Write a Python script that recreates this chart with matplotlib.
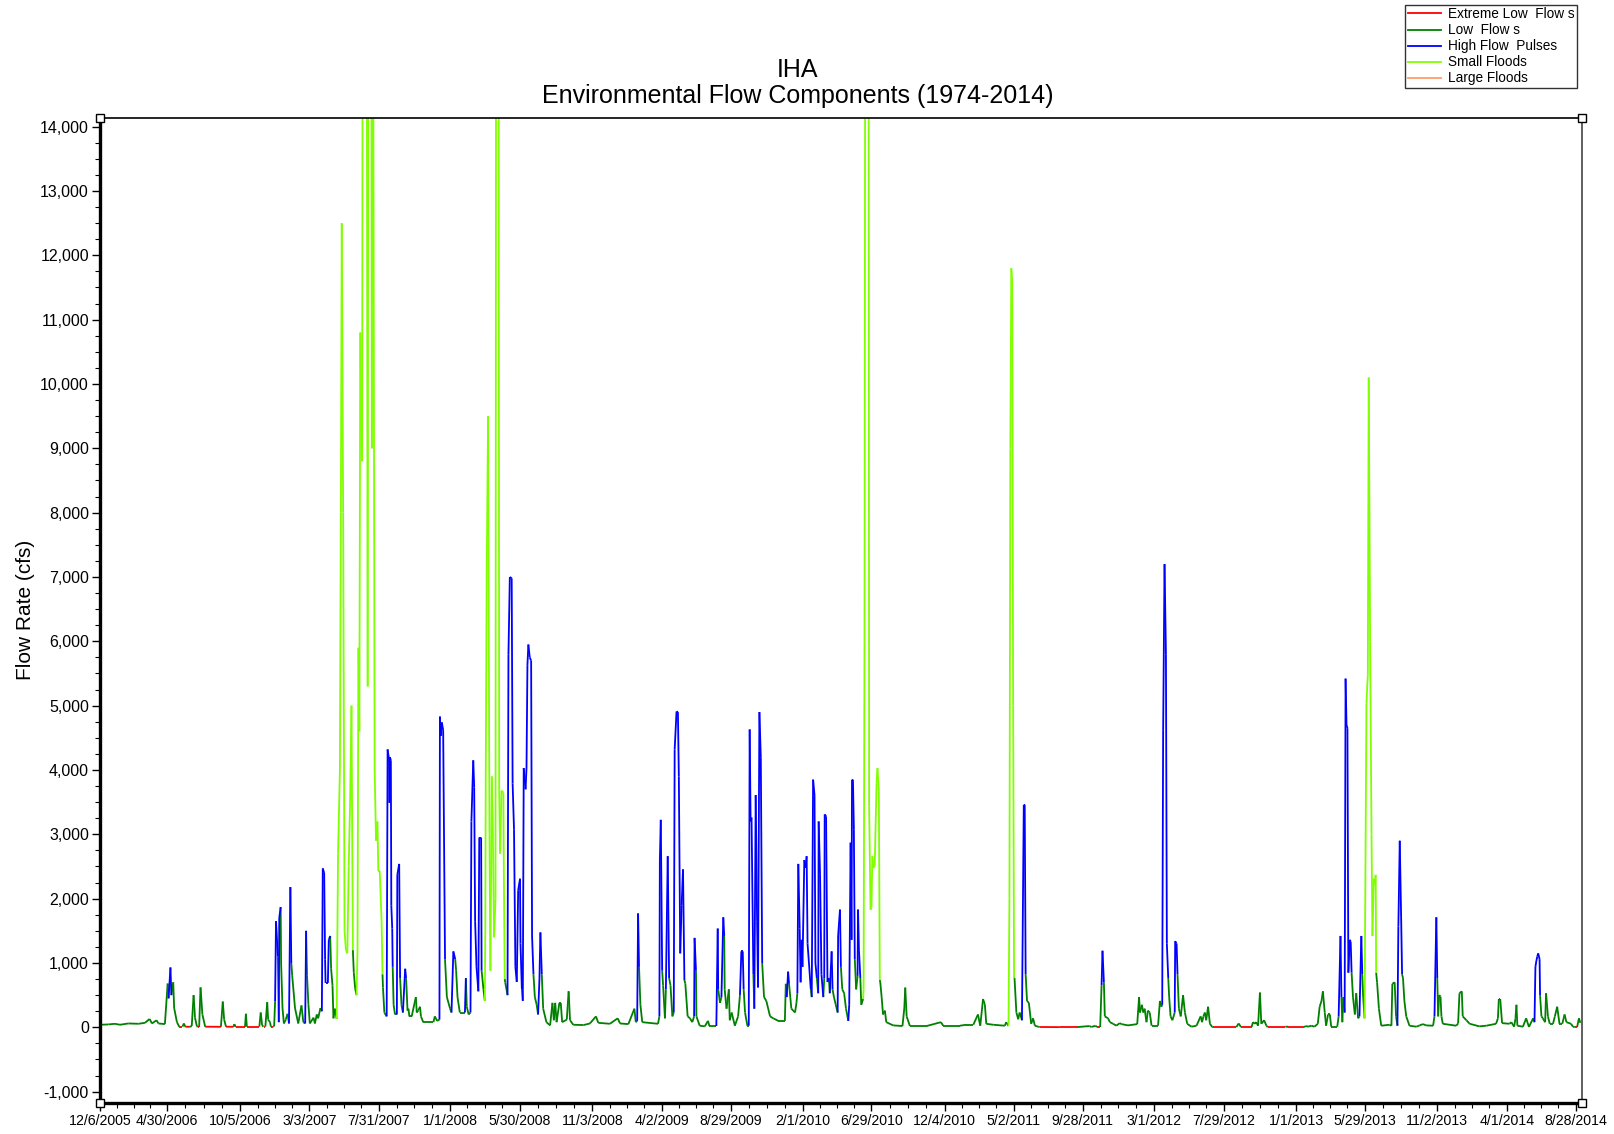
import matplotlib

matplotlib.use("Agg")
import matplotlib.dates as mdates
import matplotlib.pyplot as plt
import numpy as np
import pandas as pd
from matplotlib.collections import LineCollection
from matplotlib.lines import Line2D
from matplotlib.ticker import FixedLocator, FuncFormatter, MultipleLocator

plt.rcParams["font.family"] = ["Liberation Sans", "DejaVu Sans"]

START_DATE = "2005-12-06"

# (days since START_DATE, flow in cfs, component code) read off the hydrograph
# E = extreme low flow, L = low flow, H = high flow pulse, S = small flood
season_2006 = [
    (0, 40, "L"), (18, 45, "L"), (32, 55, "L"), (43, 40, "L"), (61, 60, "L"), (83, 55, "L"),
    (97, 70, "L"), (107, 130, "L"), (112, 60, "L"), (122, 110, "L"), (126, 60, "L"), (140, 50, "L"),
    (146, 680, "L"), (148, 450, "L"), (152, 930, "H"), (154, 500, "H"), (158, 700, "L"), (160, 300, "L"),
    (166, 80, "L"), (171, 10, "E"), (178, 10, "E"), (181, 60, "L"), (184, 10, "E"), (194, 8, "E"),
    (198, 20, "L"), (202, 500, "L"), (205, 150, "L"), (209, 20, "L"), (211, 5, "E"), (214, 5, "E"),
    (217, 620, "L"), (221, 200, "L"), (227, 10, "E"), (261, 8, "E"), (265, 400, "L"), (268, 120, "L"),
    (272, 10, "E"), (288, 8, "E"), (290, 50, "L"), (293, 5, "E"), (313, 5, "E"), (315, 210, "L"),
    (317, 10, "E"), (344, 10, "E"), (347, 230, "L"), (350, 30, "L"), (353, 10, "E"), (357, 10, "E"),
    (361, 390, "L"), (363, 120, "L"), (367, 80, "L"), (369, 10, "E"), (374, 10, "E"), (376, 20, "L"),
    (378, 400, "L"), (380, 1650, "H"), (384, 1100, "H"), (386, 80, "L"), (387, 1700, "H"), (390, 1870, "H"),
]
season_2007 = [
    (391, 1000, "L"), (394, 300, "L"), (397, 60, "L"), (401, 120, "L"), (405, 210, "L"), (408, 60, "L"),
    (411, 2180, "H"), (413, 1000, "H"), (415, 800, "L"), (421, 300, "L"), (428, 60, "L"), (435, 340, "L"),
    (439, 80, "L"), (443, 60, "L"), (445, 1500, "H"), (447, 800, "L"), (450, 350, "L"), (453, 60, "L"),
    (461, 150, "L"), (464, 60, "L"), (468, 200, "L"), (471, 140, "L"), (476, 300, "L"), (479, 250, "L"),
    (481, 2470, "H"), (484, 2400, "H"), (486, 1050, "H"), (487, 690, "H"), (492, 690, "H"), (494, 1360, "H"),
    (497, 1420, "H"), (499, 910, "L"), (502, 650, "L"), (504, 140, "L"), (507, 290, "L"), (511, 130, "L"),
    (514, 2700, "S"), (518, 4000, "S"), (520, 8000, "S"), (522, 12500, "S"), (525, 8000, "S"), (528, 1500, "S"),
    (531, 1200, "S"), (534, 1150, "S"), (537, 2500, "S"), (540, 3500, "S"), (543, 5000, "S"), (546, 1200, "S"),
    (548, 850, "L"), (551, 600, "L"), (554, 500, "L"), (556, 1200, "S"), (558, 5900, "S"), (560, 4600, "S"),
    (562, 10800, "S"), (564, 9400, "S"), (566, 8800, "S"), (568, 22000, "S"), (575, 22000, "S"), (578, 5300, "S"),
    (580, 22000, "S"), (585, 22000, "S"), (587, 9000, "S"), (589, 22000, "S"), (590, 15000, "S"), (593, 4000, "S"),
    (596, 2900, "S"), (599, 3200, "S"), (601, 2430, "S"), (604, 2430, "S"), (608, 1650, "S"), (610, 825, "S"),
    (611, 620, "L"), (614, 230, "L"), (619, 170, "L"), (621, 4320, "H"), (624, 4170, "H"), (625, 3490, "H"),
    (626, 4200, "H"), (628, 4150, "H"), (629, 1890, "H"), (631, 1535, "H"), (632, 940, "H"), (634, 350, "L"),
    (637, 200, "L"), (641, 200, "L"), (642, 2370, "H"), (646, 2540, "H"), (648, 765, "H"), (651, 350, "L"),
    (654, 230, "L"), (659, 910, "H"), (661, 760, "H"), (664, 260, "L"), (666, 290, "L"), (668, 170, "L"),
    (673, 170, "L"), (682, 470, "L"), (684, 230, "L"), (687, 260, "L"), (691, 320, "L"), (693, 170, "L"),
    (698, 80, "L"), (720, 80, "L"), (723, 170, "L"), (728, 100, "L"), (733, 120, "L"), (734, 4830, "H"),
    (736, 4530, "H"), (738, 4740, "H"), (741, 4620, "H"), (745, 1060, "H"), (749, 470, "L"),
]
season_2008 = [
    (756, 290, "L"), (759, 230, "L"), (763, 1180, "H"), (767, 1060, "H"), (769, 880, "L"), (772, 470, "L"),
    (777, 230, "L"), (788, 230, "L"), (790, 765, "H"), (792, 320, "L"), (796, 200, "L"), (800, 230, "L"),
    (802, 3200, "H"), (806, 4150, "H"), (808, 3730, "H"), (810, 1650, "H"), (813, 940, "H"), (817, 560, "H"),
    (819, 2950, "H"), (823, 2950, "H"), (824, 880, "H"), (828, 590, "L"), (831, 410, "L"), (832, 1500, "S"),
    (833, 4000, "S"), (835, 7000, "S"), (838, 9500, "S"), (841, 3000, "S"), (843, 880, "S"), (846, 3900, "S"),
    (848, 3200, "S"), (851, 1400, "S"), (854, 2000, "S"), (856, 24000, "S"), (860, 24000, "S"), (862, 3700, "S"),
    (864, 2700, "S"), (867, 3680, "S"), (871, 3650, "S"), (872, 2480, "S"), (874, 750, "S"), (875, 700, "L"),
    (880, 500, "L"), (882, 5800, "H"), (885, 7000, "H"), (889, 6980, "H"), (891, 3790, "H"), (894, 3080, "H"),
    (897, 940, "H"), (900, 705, "H"), (903, 2130, "H"), (907, 2310, "H"), (908, 1300, "H"), (911, 590, "H"),
    (913, 410, "L"), (915, 4030, "H"), (919, 3700, "H"), (921, 4030, "H"), (923, 5630, "H"), (925, 5950, "H"),
    (928, 5750, "H"), (931, 5700, "H"), (933, 1420, "H"), (936, 825, "H"), (939, 470, "L"), (943, 350, "L"),
    (946, 200, "L"), (949, 765, "H"), (951, 1475, "H"), (954, 825, "H"), (957, 290, "L"), (964, 80, "L"),
    (972, 30, "L"), (977, 380, "L"), (980, 110, "L"), (983, 380, "L"), (986, 80, "L"), (992, 380, "L"),
    (995, 380, "L"), (998, 80, "L"), (1008, 120, "L"), (1012, 560, "L"), (1015, 110, "L"), (1022, 40, "L"),
    (1044, 35, "L"), (1058, 60, "L"), (1071, 170, "L"), (1076, 70, "L"), (1101, 55, "L"),
]
season_2009 = [
    (1118, 140, "L"), (1123, 60, "L"), (1141, 50, "L"), (1154, 290, "L"), (1157, 80, "L"), (1160, 100, "L"),
    (1162, 1770, "H"), (1164, 940, "H"), (1167, 350, "L"), (1171, 80, "L"), (1205, 55, "L"), (1208, 170, "L"),
    (1209, 2600, "H"), (1211, 3225, "H"), (1214, 880, "H"), (1216, 650, "L"), (1220, 140, "L"), (1222, 590, "L"),
    (1226, 2660, "H"), (1229, 765, "H"), (1232, 650, "L"), (1236, 170, "L"), (1239, 230, "L"), (1241, 4320, "H"),
    (1245, 4910, "H"), (1248, 4900, "H"), (1250, 3900, "H"), (1253, 1150, "H"), (1256, 1890, "H"), (1259, 2455, "H"),
    (1262, 735, "H"), (1264, 680, "L"), (1269, 170, "L"), (1274, 140, "L"), (1279, 80, "L"), (1283, 170, "L"),
    (1284, 1390, "H"), (1287, 880, "H"), (1288, 170, "L"), (1295, 25, "L"), (1306, 15, "L"), (1313, 100, "L"),
    (1316, 20, "L"), (1331, 20, "L"), (1334, 1535, "H"), (1335, 590, "H"), (1339, 380, "L"), (1342, 470, "L"),
    (1346, 1710, "H"), (1348, 1420, "H"), (1349, 590, "L"), (1353, 290, "L"), (1358, 590, "L"), (1360, 110, "L"),
    (1364, 230, "L"), (1371, 25, "L"), (1378, 170, "L"), (1382, 500, "L"), (1385, 1180, "H"), (1388, 1180, "H"),
    (1390, 590, "H"), (1393, 230, "L"), (1398, 25, "L"), (1401, 25, "L"), (1403, 4630, "H"), (1405, 3200, "H"),
    (1407, 3260, "H"), (1411, 825, "H"), (1413, 290, "L"), (1416, 3610, "H"), (1419, 1650, "H"), (1421, 620, "H"),
    (1424, 4900, "H"), (1427, 4200, "H"), (1430, 1000, "H"), (1434, 470, "L"), (1439, 410, "L"), (1447, 170, "L"),
    (1454, 140, "L"), (1465, 100, "L"), (1479, 100, "L"), (1481, 676, "L"), (1483, 470, "L"), (1486, 865, "H"),
    (1488, 676, "H"),
]
season_2010 = [
    (1493, 290, "L"), (1501, 230, "L"), (1504, 380, "L"), (1506, 530, "L"), (1508, 2540, "H"), (1511, 1535, "H"),
    (1513, 700, "H"), (1515, 1360, "H"), (1517, 940, "H"), (1521, 2600, "H"), (1524, 2480, "H"), (1526, 2660, "H"),
    (1528, 1300, "H"), (1531, 1000, "H"), (1535, 590, "H"), (1537, 470, "L"), (1540, 3850, "H"), (1543, 3610, "H"),
    (1545, 1000, "H"), (1548, 765, "H"), (1551, 530, "L"), (1552, 3200, "H"), (1555, 2370, "H"), (1558, 825, "H"),
    (1562, 470, "H"), (1564, 765, "L"), (1565, 3310, "H"), (1568, 3280, "H"), (1571, 705, "H"), (1574, 765, "H"),
    (1576, 530, "L"), (1580, 1180, "H"), (1582, 590, "H"), (1585, 470, "L"), (1589, 350, "L"), (1593, 230, "L"),
    (1594, 1420, "H"), (1598, 1830, "H"), (1600, 940, "H"), (1603, 590, "L"), (1607, 530, "L"), (1611, 290, "L"),
    (1616, 100, "L"), (1618, 350, "H"), (1621, 2870, "H"), (1623, 1360, "H"), (1624, 3850, "H"), (1626, 3850, "H"),
    (1628, 3080, "H"), (1630, 1060, "H"), (1633, 590, "L"), (1636, 800, "L"), (1637, 1830, "H"), (1639, 1200, "H"),
    (1642, 765, "H"), (1644, 350, "L"), (1648, 440, "L"), (1649, 590, "S"), (1651, 6000, "S"), (1654, 26000, "S"),
    (1659, 26000, "S"), (1661, 3430, "S"), (1664, 1830, "S"), (1666, 1860, "S"), (1668, 2660, "S"), (1670, 2480, "S"),
    (1673, 2500, "S"), (1677, 3790, "S"), (1679, 4030, "S"), (1682, 3670, "S"), (1684, 735, "S"), (1685, 705, "L"),
    (1688, 470, "L"), (1691, 200, "L"), (1695, 260, "L"), (1698, 80, "L"), (1713, 30, "L"), (1733, 20, "L"),
    (1737, 300, "L"), (1739, 617, "L"), (1742, 170, "L"), (1749, 20, "L"), (1785, 20, "L"), (1816, 80, "L"),
    (1821, 25, "L"),
]
season_2011 = [
    (1857, 25, "L"), (1871, 40, "L"), (1886, 40, "L"), (1896, 200, "L"), (1901, 25, "L"), (1907, 440, "L"),
    (1911, 350, "L"), (1914, 55, "L"), (1929, 40, "L"), (1954, 25, "L"), (1957, 80, "L"), (1962, 20, "L"),
    (1964, 2000, "S"), (1966, 9000, "S"), (1968, 11800, "S"), (1970, 11600, "S"), (1972, 5000, "S"), (1974, 765, "S"),
    (1975, 765, "L"), (1979, 230, "L"), (1983, 125, "L"), (1986, 230, "L"), (1990, 140, "L"), (1991, 110, "L"),
    (1995, 3460, "H"), (1997, 3460, "H"), (1999, 825, "H"), (2002, 410, "L"), (2006, 380, "L"), (2011, 55, "L"),
    (2015, 140, "L"), (2019, 25, "L"), (2026, 10, "L"), (2029, 5, "E"), (2073, 3, "E"), (2109, 3, "E"),
    (2137, 20, "L"), (2141, 5, "E"), (2150, 25, "L"), (2153, 5, "E"), (2160, 5, "E"), (2163, 650, "L"),
    (2165, 1190, "H"), (2168, 700, "H"), (2170, 170, "L"), (2177, 140, "L"), (2181, 80, "L"), (2188, 55, "L"),
    (2195, 25, "L"), (2202, 65, "L"), (2206, 50, "L"),
]
season_2012 = [
    (2220, 30, "L"), (2240, 50, "L"), (2244, 470, "L"), (2246, 230, "L"), (2250, 350, "L"), (2253, 230, "L"),
    (2256, 290, "L"), (2260, 80, "L"), (2263, 260, "L"), (2267, 230, "L"), (2271, 25, "L"), (2285, 25, "L"),
    (2289, 410, "L"), (2292, 320, "L"), (2294, 350, "L"), (2296, 4620, "H"), (2299, 7200, "H"), (2302, 5800, "H"),
    (2304, 1300, "H"), (2307, 765, "H"), (2309, 470, "L"), (2312, 170, "L"), (2316, 110, "L"), (2321, 230, "L"),
    (2322, 1340, "H"), (2325, 1300, "H"), (2327, 825, "H"), (2330, 290, "L"), (2334, 170, "L"), (2339, 500, "L"),
    (2343, 230, "L"), (2348, 55, "L"), (2357, 10, "L"), (2368, 25, "L"), (2377, 170, "L"), (2380, 80, "L"),
    (2383, 170, "L"), (2386, 230, "L"), (2389, 110, "L"), (2393, 320, "L"), (2397, 55, "L"), (2402, 5, "L"),
    (2404, 3, "E"), (2454, 3, "E"), (2459, 60, "L"), (2464, 5, "E"), (2487, 5, "E"), (2490, 80, "L"),
    (2494, 55, "L"), (2497, 80, "L"), (2501, 25, "L"), (2505, 540, "L"), (2508, 55, "L"), (2514, 110, "L"),
    (2519, 25, "L"), (2522, 3, "E"), (2560, 3, "E"), (2563, 15, "L"), (2566, 3, "E"), (2600, 3, "E"),
]
season_2013 = [
    (2604, 20, "L"), (2609, 10, "L"), (2616, 25, "L"), (2623, 10, "L"), (2630, 55, "L"), (2634, 320, "L"),
    (2638, 410, "L"), (2641, 560, "L"), (2645, 230, "L"), (2648, 25, "L"), (2652, 200, "L"), (2656, 200, "L"),
    (2659, 10, "L"), (2672, 10, "L"), (2675, 170, "L"), (2679, 1420, "H"), (2681, 470, "H"), (2683, 80, "L"),
    (2685, 470, "L"), (2688, 230, "L"), (2690, 5420, "H"), (2692, 4700, "H"), (2694, 4650, "H"), (2696, 850, "H"),
    (2699, 1360, "H"), (2701, 1330, "H"), (2703, 850, "H"), (2706, 470, "L"), (2710, 200, "L"), (2713, 530, "L"),
    (2717, 140, "L"), (2720, 170, "L"), (2724, 1420, "H"), (2726, 825, "H"), (2728, 470, "L"), (2731, 140, "L"),
    (2735, 5030, "S"), (2738, 5480, "S"), (2740, 10100, "S"), (2743, 6000, "S"), (2746, 3000, "S"), (2748, 1420, "S"),
    (2751, 2310, "S"), (2753, 2220, "S"), (2755, 2370, "S"), (2756, 850, "S"), (2758, 700, "L"), (2762, 290, "L"),
    (2767, 25, "L"), (2785, 40, "L"), (2789, 25, "L"), (2791, 676, "L"), (2796, 700, "L"), (2799, 170, "L"),
    (2802, 25, "L"), (2804, 1565, "H"), (2807, 2900, "H"), (2810, 1700, "H"), (2812, 825, "H"), (2814, 765, "L"),
    (2817, 410, "L"), (2821, 170, "L"), (2828, 25, "L"), (2843, 10, "L"), (2850, 30, "L"), (2857, 50, "L"),
    (2864, 30, "L"), (2879, 25, "L"), (2882, 170, "L"), (2886, 1710, "H"), (2888, 765, "H"), (2890, 170, "L"),
    (2892, 500, "L"), (2895, 480, "L"), (2897, 170, "L"), (2900, 55, "L"), (2929, 25, "L"), (2933, 60, "L"),
    (2936, 530, "L"), (2941, 560, "L"), (2943, 170, "L"),
]
season_2014 = [
    (2951, 110, "L"), (2958, 55, "L"), (2979, 15, "L"), (2994, 25, "L"), (3015, 55, "L"), (3019, 140, "L"),
    (3021, 440, "L"), (3024, 440, "L"), (3028, 65, "L"), (3044, 55, "L"), (3048, 80, "L"), (3054, 10, "L"),
    (3057, 140, "L"), (3059, 350, "L"), (3061, 25, "L"), (3073, 10, "L"), (3080, 140, "L"), (3086, 5, "L"),
    (3095, 140, "L"), (3098, 80, "L"), (3100, 940, "H"), (3102, 1030, "H"), (3104, 1100, "H"), (3106, 1150, "H"),
    (3109, 1060, "H"), (3110, 500, "H"), (3113, 170, "L"), (3116, 140, "L"), (3121, 80, "L"), (3123, 530, "L"),
    (3127, 170, "L"), (3131, 55, "L"), (3138, 55, "L"), (3142, 170, "L"), (3147, 320, "L"), (3152, 55, "L"),
    (3158, 55, "L"), (3163, 200, "L"), (3167, 80, "L"), (3177, 55, "L"), (3181, 10, "L"), (3185, 3, "E"),
    (3190, 3, "E"), (3194, 140, "L"), (3197, 70, "L"),
]

TICK_DATES = [
    "12/6/2005", "4/30/2006", "10/5/2006", "3/3/2007", "7/31/2007", "1/1/2008", "5/30/2008", "11/3/2008",
    "4/2/2009", "8/29/2009", "2/1/2010", "6/29/2010", "12/4/2010", "5/2/2011", "9/28/2011", "3/1/2012",
    "7/29/2012", "1/1/2013", "5/29/2013", "11/2/2013", "4/1/2014", "8/28/2014",
]

COMPONENT_COLORS = {
    "L": "#008000",
    "E": "#ff0000",
    "H": "#0000ff",
    "S": "#80ff00",
}
LEGEND_ITEMS = [
    ("Extreme Low  Flow s", "#ff0000"),
    ("Low  Flow s", "#008000"),
    ("High Flow  Pulses", "#0000ff"),
    ("Small Floods", "#80ff00"),
    ("Large Floods", "#ff9c6a"),
]


def segment_code(prev_code, next_code):
    """Colour a segment by the day it runs into, but keep low-flow spikes green on the way down."""
    if next_code == "E" and prev_code != "E":
        return prev_code
    return next_code


def main():
    rows = season_2006 + season_2007 + season_2008 + season_2009 + season_2010 \
        + season_2011 + season_2012 + season_2013 + season_2014
    df = pd.DataFrame(rows, columns=["day", "flow", "comp"])
    start = pd.Timestamp(START_DATE)
    dates = start + pd.to_timedelta(df["day"], unit="D")
    x = mdates.date2num(dates.to_numpy())
    y = df["flow"].to_numpy(dtype=float)
    comp = df["comp"].to_numpy()

    fig = plt.figure(figsize=(16.14, 11.34), dpi=100)
    ax = fig.add_axes([0.062, 0.0273, 0.918, 0.869])

    seg_codes = [segment_code(comp[i], comp[i + 1]) for i in range(len(x) - 1)]
    for code in ["L", "E", "H", "S"]:
        segs = [
            [(x[i], y[i]), (x[i + 1], y[i + 1])]
            for i in range(len(x) - 1)
            if seg_codes[i] == code
        ]
        ax.add_collection(LineCollection(segs, colors=COMPONENT_COLORS[code], linewidths=1.3))

    x_end = mdates.date2num(start + pd.Timedelta(days=3200))
    ax.set_xlim(mdates.date2num(start), x_end)
    ax.set_ylim(-1177, 14141)

    tick_pos = mdates.date2num(pd.to_datetime(TICK_DATES, format="%m/%d/%Y").to_numpy())
    minor_pos = []
    for a, b in zip(tick_pos[:-1], tick_pos[1:]):
        minor_pos += list(np.linspace(a, b, 5)[1:-1])
    ax.xaxis.set_major_locator(FixedLocator(tick_pos))
    ax.xaxis.set_minor_locator(FixedLocator(minor_pos))
    ax.set_xticklabels(TICK_DATES)

    ax.yaxis.set_major_locator(MultipleLocator(1000))
    ax.yaxis.set_minor_locator(MultipleLocator(250))
    ax.yaxis.set_major_formatter(FuncFormatter(lambda v, _: f"{v:,.0f}"))

    ax.tick_params(which="major", direction="out", length=6, width=1, pad=2)
    ax.tick_params(axis="y", which="major", labelsize=11.5)
    ax.tick_params(axis="x", which="major", labelsize=10.2)
    ax.tick_params(which="minor", direction="out", length=3.5, width=0.8)

    ax.spines["left"].set_linewidth(2.4)
    ax.spines["bottom"].set_linewidth(2.4)
    ax.spines["top"].set_linewidth(1.2)
    ax.spines["right"].set_linewidth(1.2)
    ax.spines["right"].set_color("#444444")

    ax.set_ylabel("Flow Rate (cfs)", fontsize=15)
    ax.yaxis.set_label_coords(-0.044, 0.5)

    # small square handles at the plot corners
    ax.plot([0, 0, 1, 1], [0, 1, 0, 1], "s", transform=ax.transAxes, clip_on=False,
            ms=6, mfc="white", mec="black", mew=1, zorder=5)

    fig.text(0.494, 0.927, "IHA\nEnvironmental Flow Components (1974-2014)",
             ha="center", va="center", fontsize=18, linespacing=1.1)

    handles = [Line2D([], [], color=c, lw=1.3) for _, c in LEGEND_ITEMS]
    leg = fig.legend(handles, [t for t, _ in LEGEND_ITEMS], loc="upper right",
                     bbox_to_anchor=(0.977, 0.996), fontsize=9.8, frameon=True, fancybox=False,
                     borderpad=0.2, labelspacing=0.15, handlelength=2.4, handletextpad=0.5,
                     borderaxespad=0)
    leg.get_frame().set_edgecolor("black")
    leg.get_frame().set_linewidth(1.0)

    fig.savefig("out.png", dpi=100)


if __name__ == "__main__":
    main()
